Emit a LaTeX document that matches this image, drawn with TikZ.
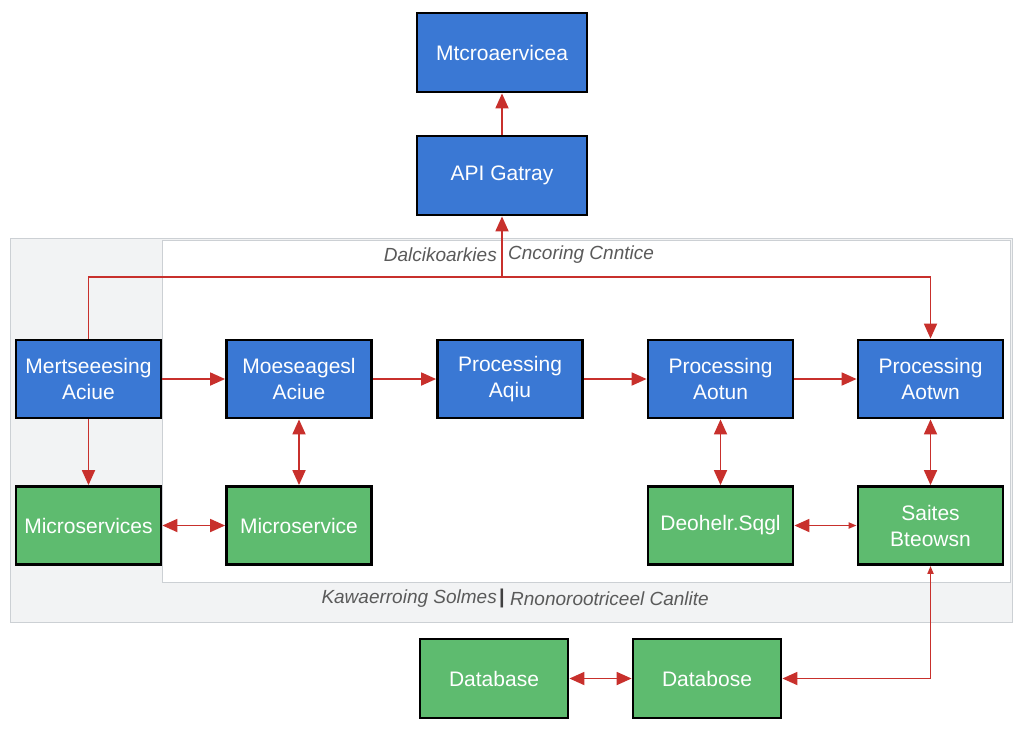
\documentclass[tikz,border=0pt]{standalone}
\usepackage{fontspec}
\setmainfont{Liberation Sans}
\usetikzlibrary{arrows.meta}
\definecolor{boxblue}{RGB}{58,120,212}
\definecolor{boxgreen}{RGB}{94,187,111}
\definecolor{linkred}{RGB}{200,48,44}
\definecolor{panegray}{RGB}{242,243,244}
\definecolor{paneedge}{RGB}{204,208,212}
\definecolor{labelgray}{RGB}{90,90,90}

\begin{document}
\begin{tikzpicture}[x=1pt,y=-1pt,>={Triangle[length=15pt,width=13pt]},
  box/.style={draw=black,line width=2.8pt,text=white,inner sep=0pt,align=center,
    font=\fontsize{21}{26}\selectfont,minimum width=145pt,minimum height=78pt},
  bluebox/.style={box,fill=boxblue},
  greenbox/.style={box,fill=boxgreen},
  link/.style={draw=linkred,line width=1.8pt},
  panelabel/.style={text=labelgray,font=\fontsize{19}{22}\selectfont\itshape,inner sep=0pt}]
\useasboundingbox (0,0) rectangle (1024,732);
% panes
\filldraw [fill=panegray,draw=paneedge,line width=1pt] (10,238) rectangle (1012,622);
\filldraw [fill=white,draw=paneedge,line width=1pt] (162,240) rectangle (1010,582);
\node [panelabel,anchor=east] (top1) at (497,255) {Dalcikoarkies};
\node [panelabel,anchor=west] (top2) at (508,255) {Cncoring Cnntice};
\node [panelabel,anchor=east] (bot1) at (497,599) {Kawaerroing Solmes};
\node [text=black!75,font=\fontsize{20}{20}\selectfont\bfseries,inner sep=0pt] (bar) at (502,598) {|};
\node [panelabel,anchor=west] (bot2) at (510,599) {Rnonorootriceel Canlite};
% boxes
\node (mtc) at (502,52.5) [bluebox,minimum width=170pt,minimum height=79pt] {Mtcroaervicea};
\node (api) at (502,175.5) [bluebox,minimum width=170pt,minimum height=79pt] {API Gatray};
\node (mert)  at (88.5,379) [bluebox] {Mertseeesing\\Aciue};
\node (moese) at (299,379) [bluebox] {Moeseagesl\\Aciue};
\node (proc1) at (510,379) [bluebox] {Processing\\Aqiu};
\node (proc2) at (720.5,379) [bluebox] {Processing\\Aotun};
\node (proc3) at (930.5,379) [bluebox] {Processing\\Aotwn};
\node (msa)   at (88.5,525.5) [greenbox] {Microservices};
\node (msb)   at (299,525.5) [greenbox] {Microservice};
\node (deo)   at (720.5,525.5) [greenbox] {Deohelr.Sqgl};
\node (sai)   at (930.5,525.5) [greenbox] {Saites\\Bteowsn};
\node (dba)   at (494,678.5) [greenbox,minimum width=148pt,minimum height=79pt] {Database};
\node (dbb)   at (707,678.5) [greenbox,minimum width=148pt,minimum height=79pt] {Databose};
% links
\coordinate (j1) at (88.5,277);
\coordinate (j2) at (502,277);
\coordinate (j3) at (930.5,277);
\coordinate (j4) at (930.5,678.5);
\draw [link,->] (api) -- (mtc);
\draw [link,->] (mert) -- (j1) -- (j3) -- (proc3);
\draw [link,->] (j2) -- (api);
\draw [link,->] (mert) -- (moese);
\draw [link,->] (moese) -- (proc1);
\draw [link,->] (proc1) -- (proc2);
\draw [link,->] (proc2) -- (proc3);
\draw [link,->] (mert) -- (msa);
\draw [link,<->] (moese) -- (msb);
\draw [link,<->] (msa) -- (msb);
\draw [link,<->] (proc2) -- (deo);
\draw [link,<->] (proc3) -- (sai);
\draw [link,{Triangle[length=8pt,width=6pt]}->] (sai) -- (deo);
\draw [link,<->] (dba) -- (dbb);
\draw [link,{Triangle[length=8pt,width=6pt]}->] (sai) -- (j4) -- (dbb);
\end{tikzpicture}
\end{document}
